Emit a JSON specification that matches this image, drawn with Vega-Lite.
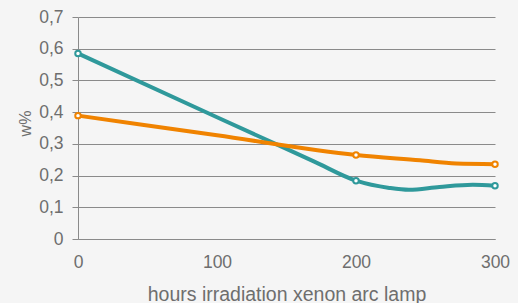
{
  "$schema": "https://vega.github.io/schema/vega-lite/v6.json",
  "width": 417,
  "height": 222,
  "autosize": {"type": "none"},
  "padding": {"left": 78, "top": 17, "right": 23, "bottom": 64},
  "background": "#f5f5f5",
  "config": {"view": {"stroke": null}, "font": "Liberation Sans"},
  "data": {
    "values": [
      {"hours": 0, "w": 0.585, "series": "A", "marker": true},
      {"hours": 100, "w": 0.384, "series": "A", "marker": false},
      {"hours": 170, "w": 0.244, "series": "A", "marker": false},
      {"hours": 200, "w": 0.184, "series": "A", "marker": true},
      {"hours": 224, "w": 0.161, "series": "A", "marker": false},
      {"hours": 238, "w": 0.155, "series": "A", "marker": false},
      {"hours": 260, "w": 0.164, "series": "A", "marker": false},
      {"hours": 284, "w": 0.171, "series": "A", "marker": false},
      {"hours": 300, "w": 0.168, "series": "A", "marker": true},
      {"hours": 0, "w": 0.389, "series": "B", "marker": true},
      {"hours": 100, "w": 0.327, "series": "B", "marker": false},
      {"hours": 200, "w": 0.265, "series": "B", "marker": true},
      {"hours": 246, "w": 0.248, "series": "B", "marker": false},
      {"hours": 272, "w": 0.238, "series": "B", "marker": false},
      {"hours": 300, "w": 0.236, "series": "B", "marker": true}
    ]
  },
  "encoding": {
    "x": {
      "field": "hours", "type": "quantitative",
      "scale": {"domain": [0, 300], "nice": false},
      "axis": {
        "values": [0, 100, 200, 300], "grid": false, "ticks": false, "labelFlush": false,
        "domainColor": "#8a8a8a", "labelFontSize": 17.5, "labelColor": "#6e6e6e",
        "labelPadding": 14, "title": "hours irradiation xenon arc lamp",
        "titleFontSize": 19.5, "titleFontWeight": "normal", "titleColor": "#6e6e6e",
        "titleBaseline": "alphabetic", "titleY": 61
      }
    },
    "y": {
      "field": "w", "type": "quantitative",
      "scale": {"domain": [0, 0.7], "nice": false},
      "axis": {
        "values": [0, 0.1, 0.2, 0.3, 0.4, 0.5, 0.6, 0.7],
        "labelExpr": "datum.value == 0 ? '0' : replace(format(datum.value, '.1f'), '.', ',')",
        "grid": true, "gridColor": "#8a8a8a", "gridOpacity": 1,
        "domainColor": "#8a8a8a", "tickColor": "#8a8a8a", "tickSize": 6,
        "labelFontSize": 17.5, "labelColor": "#6e6e6e", "labelPadding": 9,
        "title": "w%", "titleFontSize": 16, "titleFontWeight": "normal", "titleColor": "#6e6e6e",
        "titleX": -53, "titleY": 106, "titleAlign": "center", "titleBaseline": "middle", "titleAngle": -90
      }
    }
  },
  "layer": [
    {
      "mark": {"type": "line", "interpolate": "monotone", "strokeWidth": 4},
      "encoding": {
        "color": {"field": "series", "type": "nominal",
          "scale": {"domain": ["A", "B"], "range": ["#2f999b", "#f08300"]}, "legend": null}
      }
    },
    {
      "transform": [{"filter": "datum.marker"}],
      "mark": {"type": "point", "filled": true, "fill": "white", "size": 30, "strokeWidth": 2, "opacity": 1},
      "encoding": {
        "stroke": {"field": "series", "type": "nominal",
          "scale": {"domain": ["A", "B"], "range": ["#2f999b", "#f08300"]}, "legend": null}
      }
    }
  ]
}
